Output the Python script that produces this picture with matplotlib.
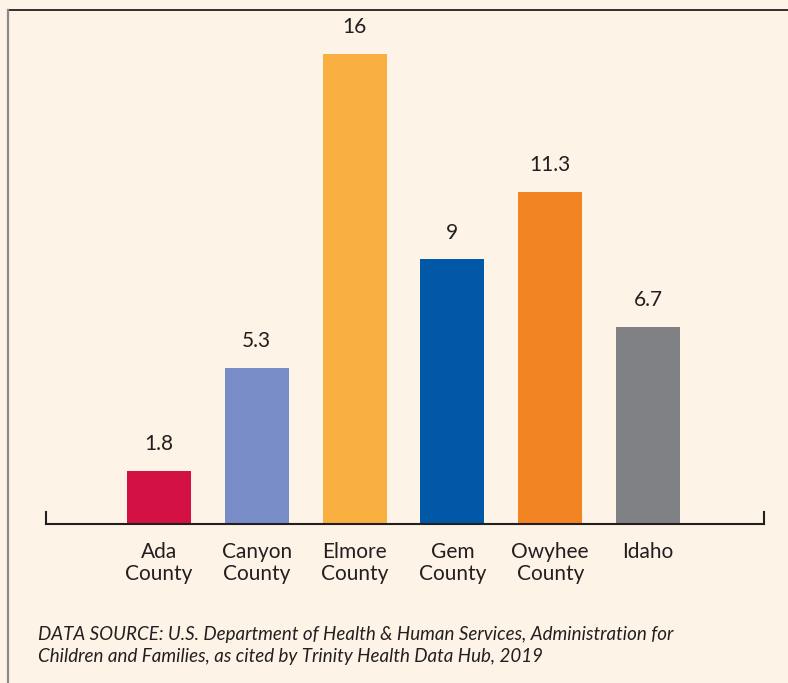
import matplotlib.pyplot as plt
from matplotlib.lines import Line2D

plt.rcParams['font.family'] = ['Lato', 'DejaVu Sans']

# data
regions = ["Ada\nCounty", "Canyon\nCounty", "Elmore\nCounty", "Gem\nCounty", "Owyhee\nCounty", "Idaho"]
rates = [1.8, 5.3, 16, 9, 11.3, 6.7]
rate_labels = ["1.8", "5.3", "16", "9", "11.3", "6.7"]
bar_colors = ["#D31145", "#788CC8", "#F9B040", "#0058A7", "#F38423", "#808184"]

bg = "#FDF4E7"
ink = "#231F20"
scale = 29.4  # px per unit

fig = plt.figure(figsize=(7.88, 6.83), dpi=100, facecolor=bg)
W, H = 788, 683
ax = fig.add_axes([46 / W, 159 / H, (764 - 46) / W, (524 - 10) / H])
ax.set_facecolor(bg)

x = list(range(len(regions)))
bars = ax.bar(x, rates, width=0.654, color=bar_colors, zorder=2)

for b, lab in zip(bars, rate_labels):
    ax.annotate(lab, (b.get_x() + b.get_width() / 2, b.get_height()),
                xytext=(0, 15), textcoords="offset points",
                ha="center", va="baseline", fontsize=15, color=ink)

ax.set_xlim(-1.155, 6.186)
ax.set_ylim(0, 514 / scale)

ax.set_xticks(x)
ax.set_xticklabels(regions, fontsize=15, color=ink, linespacing=1.15)
ax.tick_params(axis="x", length=0, pad=13)
ax.set_yticks([])

ax.spines["top"].set_visible(False)
for s in ["bottom", "left", "right"]:
    ax.spines[s].set_color(ink)
    ax.spines[s].set_linewidth(1.5)
ax.spines["left"].set_bounds(0, 12 / scale)
ax.spines["right"].set_bounds(0, 12 / scale)

# frame lines of the panel
fig.add_artist(Line2D([8 / W, 1], [1 - 10 / H, 1 - 10 / H], color=ink, lw=1.3))
fig.add_artist(Line2D([8 / W, 8 / W], [0, 1 - 10 / H], color="#8A8A8A", lw=1.6))

fig.text(38 / W, 1 - 640 / H,
         "DATA SOURCE: U.S. Department of Health & Human Services, Administration for",
         fontsize=13.5, style="italic", color=ink, va="baseline")
fig.text(38 / W, 1 - 662 / H,
         "Children and Families, as cited by Trinity Health Data Hub, 2019",
         fontsize=13.5, style="italic", color=ink, va="baseline")

fig.savefig("out.png", dpi=100, facecolor=bg)
